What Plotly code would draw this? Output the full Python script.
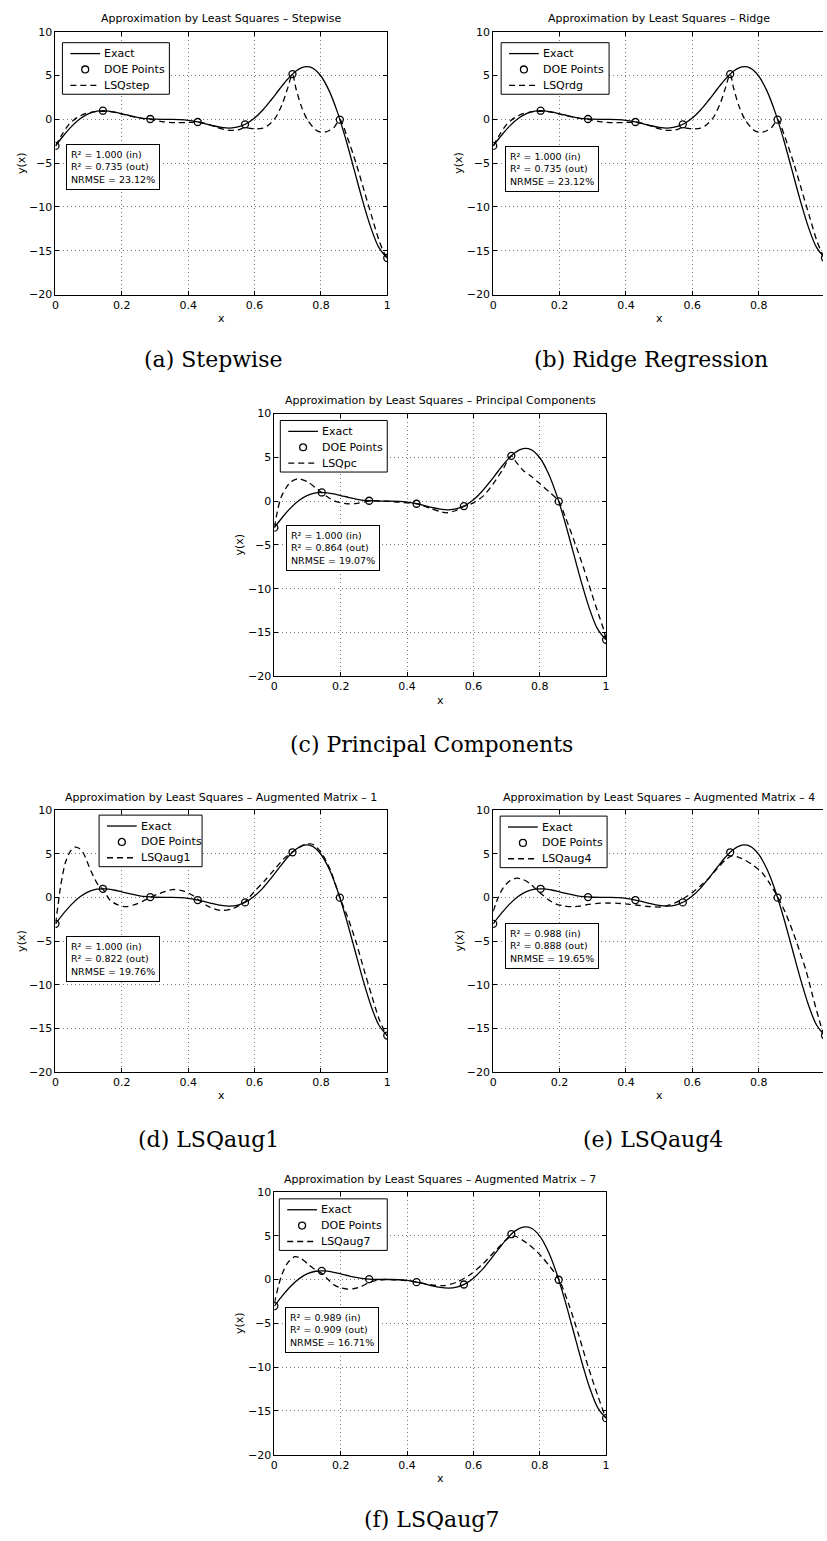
import plotly.graph_objects as go

W, H = 827, 1541

# ---------------- data ----------------
exact_x = [0, 0.025, 0.05, 0.075, 0.1, 0.125, 0.15, 0.175, 0.2, 0.225, 0.25, 0.275, 0.3,
           0.325, 0.35, 0.375, 0.4, 0.425, 0.45, 0.475, 0.5, 0.525, 0.55, 0.575, 0.6,
           0.625, 0.65, 0.675, 0.7, 0.725, 0.75, 0.775, 0.8, 0.825, 0.85, 0.875, 0.9,
           0.925, 0.95, 0.975, 1.0]
exact_y = [-3.03, -1.81, -0.74, 0.10, 0.66, 0.94, 0.98, 0.85, 0.64, 0.41, 0.21, 0.08, 0.02,
           0.00, 0.00, -0.03, -0.11, -0.27, -0.48, -0.72, -0.91, -0.99, -0.87, -0.50, 0.15,
           1.07, 2.21, 3.44, 4.61, 5.52, 5.99, 5.85, 4.95, 3.25, 0.80, -2.27, -5.71,
           -9.19, -12.30, -14.65, -15.83]

doe_x = [0, 0.1429, 0.2857, 0.4286, 0.5714, 0.7143, 0.8571, 1.0]
doe_y = [-3.03, 0.99, 0.04, -0.30, -0.57, 5.17, -0.03, -15.83]

lsqstep_x = [0, 0.02, 0.04, 0.065, 0.09, 0.115, 0.143, 0.17, 0.2, 0.23, 0.26, 0.286, 0.32,
             0.36, 0.4, 0.429, 0.46, 0.49, 0.52, 0.55, 0.571, 0.6, 0.625, 0.645, 0.665,
             0.685, 0.7, 0.714, 0.725, 0.74, 0.76, 0.79, 0.815, 0.84, 0.857, 0.88, 0.905,
             0.93, 0.955, 0.975, 0.99, 1.0]
lsqstep_y = [-3.03, -1.7, -0.6, 0.2, 0.65, 0.85, 0.92, 0.85, 0.6, 0.35, 0.12, 0.0, -0.25,
             -0.38, -0.35, -0.32, -0.55, -0.95, -1.25, -1.2, -0.95, -1.08, -1.0, -0.55, 0.3,
             1.9, 3.6, 5.17, 3.5, 1.6, -0.1, -1.35, -1.43, -0.9, -0.03, -2.1, -4.9,
             -8.1, -11.3, -13.8, -15.2, -15.83]

lsqrdg_x = list(lsqstep_x)
lsqrdg_y = [-3.03, -1.7, -0.6, 0.2, 0.65, 0.85, 0.92, 0.85, 0.6, 0.35, 0.12, 0.0, -0.25,
            -0.38, -0.35, -0.32, -0.55, -0.95, -1.25, -1.2, -0.95, -1.08, -1.0, -0.55, 0.3,
            1.9, 3.6, 5.17, 3.5, 1.6, -0.1, -1.35, -1.43, -0.9, -0.03, -2.1, -4.9,
            -8.1, -11.3, -13.8, -15.2, -15.83]

lsqpc_x = [0, 0.01, 0.02, 0.035, 0.05, 0.072, 0.1, 0.125, 0.143, 0.165, 0.19, 0.22, 0.25,
           0.286, 0.33, 0.37, 0.4, 0.43, 0.47, 0.5, 0.52, 0.545, 0.571, 0.6, 0.63, 0.66,
           0.69, 0.714, 0.73, 0.75, 0.775, 0.8, 0.83, 0.857, 0.878, 0.907, 0.932, 0.957,
           0.977, 0.992, 1.0]
lsqpc_y = [-3.0, -1.0, 0.4, 1.5, 2.2, 2.55, 2.2, 1.5, 0.95, 0.35, -0.1, -0.3, -0.25,
           0.0, 0.0, -0.1, -0.2, -0.3, -0.83, -1.2, -1.33, -1.1, -0.6, -0.2, 0.6, 2.0,
           3.7, 5.17, 4.4, 3.5, 2.8, 2.0, 1.0, 0.0, -1.9, -4.9, -7.6, -10.6,
           -12.9, -14.6, -15.83]

lsqaug1_x = [0, 0.008, 0.015, 0.03, 0.045, 0.058, 0.072, 0.085, 0.106, 0.129, 0.143, 0.164,
             0.189, 0.213, 0.243, 0.265, 0.286, 0.313, 0.353, 0.387, 0.412, 0.429, 0.462,
             0.5, 0.531, 0.556, 0.571, 0.6, 0.63, 0.66, 0.69, 0.714, 0.74, 0.758, 0.78,
             0.805, 0.83, 0.857, 0.88, 0.905, 0.93, 0.955, 0.975, 0.99, 1.0]
lsqaug1_y = [-3.0, -0.8, 1.2, 4.0, 5.3, 5.75, 5.6, 5.0, 3.1, 1.4, 0.95, -0.3,
             -0.87, -1.06, -0.76, -0.4, 0.0, 0.45, 0.9, 0.72, 0.27, -0.2, -1.06,
             -1.5, -1.33, -0.87, -0.5, 0.7, 1.9, 3.2, 4.5, 5.2, 5.85, 6.15, 6.0,
             4.9, 3.0, 0.0, -2.2, -5.0, -8.3, -11.5, -13.9, -15.2, -15.83]

lsqaug4_x = [0, 0.015, 0.03, 0.05, 0.07, 0.09, 0.11, 0.13, 0.15, 0.17, 0.19, 0.215, 0.237,
             0.26, 0.287, 0.315, 0.346, 0.376, 0.406, 0.436, 0.466, 0.505, 0.525, 0.545,
             0.575, 0.6, 0.625, 0.65, 0.675, 0.7, 0.72, 0.74, 0.76, 0.785, 0.81, 0.835,
             0.857, 0.88, 0.903, 0.923, 0.943, 0.963, 0.983, 1.0]
lsqaug4_y = [-1.6, 0.0, 1.1, 1.9, 2.2, 2.05, 1.6, 0.9, 0.25, -0.35, -0.76, -0.98, -1.06,
             -1.0, -0.8, -0.68, -0.64, -0.68, -0.76, -0.9, -1.04, -1.1, -0.95, -0.68,
             -0.1, 0.55, 1.35, 2.2, 3.3, 4.3, 4.75, 4.6, 4.25, 3.65, 2.85, 1.5,
             0.1, -1.7, -3.9, -6.1, -8.4, -11.3, -14.1, -16.2]

lsqaug7_x = [0, 0.012, 0.022, 0.04, 0.062, 0.08, 0.1, 0.12, 0.143, 0.162, 0.181, 0.2, 0.221,
             0.24, 0.26, 0.29, 0.33, 0.36, 0.39, 0.43, 0.47, 0.51, 0.55, 0.59, 0.629, 0.669,
             0.708, 0.725, 0.748, 0.768, 0.788, 0.808, 0.828, 0.858, 0.888, 0.917, 0.947,
             0.977, 0.995, 1.0]
lsqaug7_y = [-2.7, -0.8, 0.5, 1.9, 2.6, 2.4, 1.8, 1.2, 0.7, 0.0, -0.64, -0.95, -1.1,
             -1.05, -0.83, -0.27, 0.0, -0.03, -0.1, -0.3, -0.6, -0.7, -0.3, 0.55, 1.8, 3.4,
             4.8, 4.95, 4.5, 3.95, 3.3, 2.5, 1.6, 0.0, -2.9, -6.3, -10.1,
             -13.5, -15.4, -15.8]

method_names = ["LSQstep", "LSQrdg", "LSQpc", "LSQaug1", "LSQaug4", "LSQaug7"]
legend_labels = ["Exact", "DOE Points"]
plot_titles = ["Approximation by Least Squares \u2013 Stepwise",
               "Approximation by Least Squares \u2013 Ridge",
               "Approximation by Least Squares \u2013 Principal Components",
               "Approximation by Least Squares \u2013 Augmented Matrix \u2013 1",
               "Approximation by Least Squares \u2013 Augmented Matrix \u2013 4",
               "Approximation by Least Squares \u2013 Augmented Matrix \u2013 7"]
captions = ["(a) Stepwise", "(b) Ridge Regression", "(c) Principal Components",
            "(d) LSQaug1", "(e) LSQaug4", "(f) LSQaug7"]
r2_in = ["1.000", "1.000", "1.000", "1.000", "0.988", "0.989"]
r2_out = ["0.735", "0.735", "0.864", "0.822", "0.888", "0.909"]
nrmse = ["23.12", "23.12", "19.07", "19.76", "19.65", "16.71"]

x_ticks = [0, 0.2, 0.4, 0.6, 0.8, 1.0]
x_ticklabels = ["0", "0.2", "0.4", "0.6", "0.8", "1"]
y_ticks = [-20, -15, -10, -5, 0, 5, 10]
y_ticklabels = ["\u221220", "\u221215", "\u221210", "\u22125", "0", "5", "10"]

series_x = [lsqstep_x, lsqrdg_x, lsqpc_x, lsqaug1_x, lsqaug4_x, lsqaug7_x]
series_y = [lsqstep_y, lsqrdg_y, lsqpc_y, lsqaug1_y, lsqaug4_y, lsqaug7_y]

# ---------------- layout geometry (pixels) ----------------
AX_W = 335
geom = [
    dict(l=52, t=26, b=291, leg=(59, 37, 108), st=(63, 139), cap=(211, 357)),
    dict(l=494, t=26, b=291, leg=(502, 37, 109), st=(506, 141), cap=(653, 357)),
    dict(l=273, t=411, b=676, leg=(279, 418, 108), st=(285, 523), cap=(432, 745)),
    dict(l=52, t=811, b=1075, leg=(96, 816, 104), st=(63, 938), cap=(206, 1143)),
    dict(l=494, t=811, b=1075, leg=(501, 817, 108), st=(506, 925), cap=(655, 1143)),
    dict(l=273, t=1196, b=1461, leg=(278, 1203, 109), st=(284, 1312), cap=(432, 1526)),
]
LEG_H = 52
LEG_ROWS = [11, 27, 43]

SANS = "DejaVu Sans"
SERIF = "DejaVu Serif"
DASH = "6px,4px"

fig = go.Figure()
layout = dict(width=W, height=H, margin=dict(l=0, r=0, t=0, b=0),
              paper_bgcolor="white", plot_bgcolor="white", showlegend=False)
annotations = []
shapes = []


def px(x):
    return x / W


def py(y):
    return 1 - y / H


def txt(text, x, y, xanchor="center", size=11, family=SANS, **kw):
    d = dict(text=text, x=px(x), y=py(y), xref="paper", yref="paper",
             xanchor=xanchor, yanchor=kw.pop("yanchor", "middle"), showarrow=False,
             font=dict(family=family, size=size, color="black"))
    d.update(kw)
    annotations.append(d)


for i, g in enumerate(geom):
    n = i + 1
    sfx = "" if n == 1 else str(n)
    xa, ya = "x" + sfx, "y" + sfx
    right = g["l"] + AX_W
    clipped = right > W
    xmax = (W - g["l"]) / AX_W if clipped else 1.0
    layout["xaxis" + sfx] = dict(
        domain=[px(g["l"]), min(1.0, px(right))], range=[0, xmax], anchor=ya,
        showline=True, linecolor="black", linewidth=1, mirror="ticks",
        ticks="inside", ticklen=4, tickcolor="black",
        tickvals=x_ticks, ticktext=x_ticklabels,
        tickfont=dict(family=SANS, size=11, color="black"),
        showgrid=True, gridcolor="#7a7a7a", gridwidth=1, griddash="1px,3px",
        zeroline=False, fixedrange=True)
    layout["yaxis" + sfx] = dict(
        domain=[py(g["b"]), py(g["t"])], range=[-20, 10], anchor=xa,
        showline=True, linecolor="black", linewidth=1,
        mirror=False if clipped else "ticks",
        ticks="inside", ticklen=4, tickcolor="black",
        tickvals=y_ticks, ticktext=y_ticklabels,
        tickfont=dict(family=SANS, size=11, color="black"),
        showgrid=True, gridcolor="#7a7a7a", gridwidth=1, griddash="1px,3px",
        zeroline=False, fixedrange=True)

    fig.add_trace(go.Scatter(
        x=exact_x, y=exact_y, mode="lines", name="Exact",
        line=dict(color="black", width=1.3, shape="spline"),
        xaxis=xa, yaxis=ya))
    fig.add_trace(go.Scatter(
        x=series_x[i], y=series_y[i], mode="lines", name=method_names[i],
        line=dict(color="black", width=1.3, dash=DASH, shape="spline", smoothing=0.8),
        xaxis=xa, yaxis=ya))
    fig.add_trace(go.Scatter(
        x=doe_x, y=doe_y, mode="markers", name="DOE Points",
        marker=dict(symbol="circle-open", size=7, color="black",
                    line=dict(width=1.3, color="black")),
        xaxis=xa, yaxis=ya))

    cx = g["l"] + AX_W / 2
    txt(plot_titles[i], cx, g["t"] - 13)
    txt("x", cx, g["b"] + 24)
    txt("y(x)", g["l"] - 35, (g["t"] + g["b"]) / 2, textangle=-90)

    stats = ("R\u00b2 = %s (in)<br>R\u00b2 = %s (out)<br>NRMSE = %s%%"
             % (r2_in[i], r2_out[i], nrmse[i]))
    txt(stats, g["st"][0], g["st"][1], xanchor="left", yanchor="top", size=9.5,
        align="left", bgcolor="white", bordercolor="black", borderwidth=1, borderpad=4)

    txt(captions[i], g["cap"][0], g["cap"][1], size=22, family=SERIF)

    # legend box (MATLAB-style, compact)
    lx, ly, lw = g["leg"]
    shapes.append(dict(type="rect", xref="paper", yref="paper",
                       x0=px(lx), x1=px(lx + lw), y0=py(ly + LEG_H), y1=py(ly),
                       fillcolor="white", line=dict(color="black", width=1), layer="above"))
    r0, r1, r2 = (ly + r for r in LEG_ROWS)
    shapes.append(dict(type="line", xref="paper", yref="paper",
                       x0=px(lx + 8), x1=px(lx + 38), y0=py(r0), y1=py(r0),
                       line=dict(color="black", width=1.3), layer="above"))
    shapes.append(dict(type="circle", xref="paper", yref="paper",
                       x0=px(lx + 19.5), x1=px(lx + 26.5), y0=py(r1 + 3.5), y1=py(r1 - 3.5),
                       line=dict(color="black", width=1.3), layer="above"))
    shapes.append(dict(type="line", xref="paper", yref="paper",
                       x0=px(lx + 8), x1=px(lx + 38), y0=py(r2), y1=py(r2),
                       line=dict(color="black", width=1.3, dash=DASH), layer="above"))
    for lab, r in zip(legend_labels + [method_names[i]], (r0, r1, r2)):
        txt(lab, lx + 40, r, xanchor="left", size=11)

layout["annotations"] = annotations
layout["shapes"] = shapes
fig.update_layout(**layout)
fig.write_html("out.html")
